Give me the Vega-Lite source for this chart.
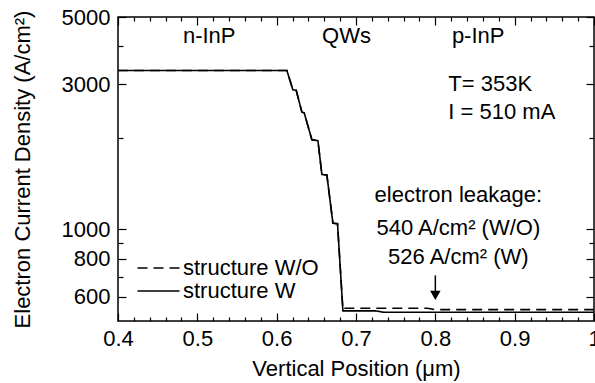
{
  "$schema": "https://vega.github.io/schema/vega-lite/v6.json",
  "width": 476,
  "height": 304,
  "autosize": {"type": "none"},
  "padding": {"left": 118, "top": 17, "right": 1, "bottom": 62},
  "config": {
    "font": "Liberation Sans",
    "view": {"stroke": "black", "strokeWidth": 1.5},
    "axis": {
      "grid": false,
      "domain": false,
      "tickColor": "black",
      "tickWidth": 1.2,
      "labelColor": "black",
      "titleColor": "black",
      "labelFontSize": 22,
      "titleFontSize": 22,
      "titleFontWeight": "normal"
    }
  },
  "datasets": {
    "curves": [
      {"x": 0.4, "y": 3334, "series": "structure W/O"},
      {"x": 0.6129, "y": 3334, "series": "structure W/O"},
      {"x": 0.6204, "y": 2881, "series": "structure W/O"},
      {"x": 0.6246, "y": 2870, "series": "structure W/O"},
      {"x": 0.6318, "y": 2432, "series": "structure W/O"},
      {"x": 0.6347, "y": 2420, "series": "structure W/O"},
      {"x": 0.6444, "y": 1972, "series": "structure W/O"},
      {"x": 0.652, "y": 1960, "series": "structure W/O"},
      {"x": 0.657, "y": 1517, "series": "structure W/O"},
      {"x": 0.6633, "y": 1510, "series": "structure W/O"},
      {"x": 0.6709, "y": 1049, "series": "structure W/O"},
      {"x": 0.6767, "y": 1045, "series": "structure W/O"},
      {"x": 0.6835, "y": 545, "series": "structure W/O"},
      {"x": 0.685, "y": 551, "series": "structure W/O"},
      {"x": 0.79, "y": 551, "series": "structure W/O"},
      {"x": 0.8, "y": 545, "series": "structure W/O"},
      {"x": 1.0, "y": 545, "series": "structure W/O"},
      {"x": 0.4, "y": 3334, "series": "structure W"},
      {"x": 0.6129, "y": 3334, "series": "structure W"},
      {"x": 0.6204, "y": 2881, "series": "structure W"},
      {"x": 0.6246, "y": 2870, "series": "structure W"},
      {"x": 0.6318, "y": 2432, "series": "structure W"},
      {"x": 0.6347, "y": 2420, "series": "structure W"},
      {"x": 0.6444, "y": 1972, "series": "structure W"},
      {"x": 0.652, "y": 1960, "series": "structure W"},
      {"x": 0.657, "y": 1517, "series": "structure W"},
      {"x": 0.6633, "y": 1510, "series": "structure W"},
      {"x": 0.6709, "y": 1049, "series": "structure W"},
      {"x": 0.6767, "y": 1045, "series": "structure W"},
      {"x": 0.6835, "y": 540, "series": "structure W"},
      {"x": 0.725, "y": 540, "series": "structure W"},
      {"x": 0.735, "y": 534, "series": "structure W"},
      {"x": 1.0, "y": 534, "series": "structure W"}
    ],
    "labelsCenter": [
      {"x": 0.515, "y": 4314, "text": "n-InP"},
      {"x": 0.688, "y": 4314, "text": "QWs"},
      {"x": 0.854, "y": 4314, "text": "p-InP"},
      {"x": 0.829, "y": 1294, "text": "electron leakage:"},
      {"x": 0.829, "y": 1015, "text": "540 A/cm² (W/O)"},
      {"x": 0.829, "y": 809, "text": "526 A/cm² (W)"}
    ],
    "labelsLeft": [
      {"x": 0.8164, "y": 3000, "text": "T= 353K"},
      {"x": 0.8164, "y": 2444, "text": "I = 510 mA"}
    ],
    "arrowShaft": [{"x": 0.8, "y": 706, "y2": 625}],
    "arrowHead": [{"x": 0.8, "y": 607}]
  },
  "layer": [
    {
      "data": {"name": "curves"},
      "mark": {"type": "line", "color": "black", "strokeWidth": 1.6},
      "encoding": {
        "x": {
          "field": "x",
          "type": "quantitative",
          "scale": {"domain": [0.4, 1.0], "nice": false, "zero": false},
          "axis": {
            "orient": "bottom",
            "title": "Vertical Position (μm)",
            "values": [0.4,0.42,0.44,0.46,0.48,0.5,0.52,0.54,0.56,0.58,0.6,0.62,0.64,0.66,0.68,0.7,0.72,0.74,0.76,0.78,0.8,0.82,0.84,0.86,0.88,0.9,0.92,0.94,0.96,0.98,1.0],
            "labelExpr": "abs(datum.value*10 - round(datum.value*10)) < 0.001 ? format(datum.value, '') : ''",
            "tickSize": {"condition": {"test": "abs(datum.value*10 - round(datum.value*10)) < 0.001", "value": -8}, "value": -4},
            "labelPadding": 15,
            "titlePadding": 5,
            "labelFlush": false,
            "labelOverlap": false
          }
        },
        "y": {
          "field": "y",
          "type": "quantitative",
          "scale": {"type": "log", "domain": [500, 5000], "nice": false},
          "axis": {
            "orient": "left",
            "title": "Electron Current Density (A/cm²)",
            "values": [600, 700, 800, 900, 1000, 2000, 3000, 4000, 5000],
            "labelExpr": "indexof([600,800,1000,3000,5000], datum.value) >= 0 ? format(datum.value, '') : ''",
            "tickSize": {"condition": {"test": "indexof([600,800,1000,3000,5000], datum.value) >= 0", "value": -8}, "value": -5},
            "labelPadding": 16,
            "titlePadding": 27,
            "labelFlush": false,
            "labelOverlap": false
          }
        },
        "strokeDash": {
          "field": "series",
          "type": "nominal",
          "scale": {"domain": ["structure W/O", "structure W"], "range": [[10, 6], [1, 0]]},
          "legend": {
            "title": null,
            "orient": "none",
            "legendX": 29.5,
            "legendY": 240,
            "symbolType": "M-3,0H3",
            "symbolSize": 196,
            "symbolStrokeWidth": 1.5,
            "symbolStrokeColor": "black",
            "labelFontSize": 22,
            "labelColor": "black",
            "labelOffset": 13.5,
            "padding": 0,
            "rowPadding": 1
          }
        }
      }
    },
    {
      "data": {"name": "labelsCenter"},
      "mark": {"type": "text", "fontSize": 22, "align": "center", "baseline": "middle", "color": "black"},
      "encoding": {
        "x": {"field": "x", "type": "quantitative", "scale": {"domain": [0.4, 1.0], "nice": false, "zero": false}, "axis": null},
        "y": {"field": "y", "type": "quantitative", "scale": {"type": "log", "domain": [500, 5000], "nice": false}, "axis": null},
        "text": {"field": "text", "type": "nominal"}
      }
    },
    {
      "data": {"name": "labelsLeft"},
      "mark": {"type": "text", "fontSize": 22, "align": "left", "baseline": "middle", "color": "black"},
      "encoding": {
        "x": {"field": "x", "type": "quantitative", "scale": {"domain": [0.4, 1.0], "nice": false, "zero": false}, "axis": null},
        "y": {"field": "y", "type": "quantitative", "scale": {"type": "log", "domain": [500, 5000], "nice": false}, "axis": null},
        "text": {"field": "text", "type": "nominal"}
      }
    },
    {
      "data": {"name": "arrowShaft"},
      "mark": {"type": "rule", "color": "black", "strokeWidth": 1.5},
      "encoding": {
        "x": {"field": "x", "type": "quantitative", "scale": {"domain": [0.4, 1.0], "nice": false, "zero": false}, "axis": null},
        "y": {"field": "y", "type": "quantitative", "scale": {"type": "log", "domain": [500, 5000], "nice": false}, "axis": null},
        "y2": {"field": "y2"}
      }
    },
    {
      "data": {"name": "arrowHead"},
      "mark": {"type": "point", "shape": "triangle-down", "filled": true, "color": "black", "size": 110, "opacity": 1},
      "encoding": {
        "x": {
          "field": "x",
          "type": "quantitative",
          "scale": {"domain": [0.4, 1.0], "nice": false, "zero": false},
          "axis": {
            "orient": "top",
            "title": null,
            "labels": false,
            "values": [0.4,0.42,0.44,0.46,0.48,0.5,0.52,0.54,0.56,0.58,0.6,0.62,0.64,0.66,0.68,0.7,0.72,0.74,0.76,0.78,0.8,0.82,0.84,0.86,0.88,0.9,0.92,0.94,0.96,0.98,1.0],
            "tickSize": {"condition": {"test": "abs(datum.value*10 - round(datum.value*10)) < 0.001", "value": -8}, "value": -4}
          }
        },
        "y": {
          "field": "y",
          "type": "quantitative",
          "scale": {"type": "log", "domain": [500, 5000], "nice": false},
          "axis": {
            "orient": "right",
            "title": null,
            "labels": false,
            "values": [600, 700, 800, 900, 1000, 2000, 3000, 4000, 5000],
            "tickSize": {"condition": {"test": "indexof([600,800,1000,3000,5000], datum.value) >= 0", "value": -8}, "value": -5}
          }
        }
      }
    }
  ],
  "resolve": {"axis": {"x": "independent", "y": "independent"}}
}
